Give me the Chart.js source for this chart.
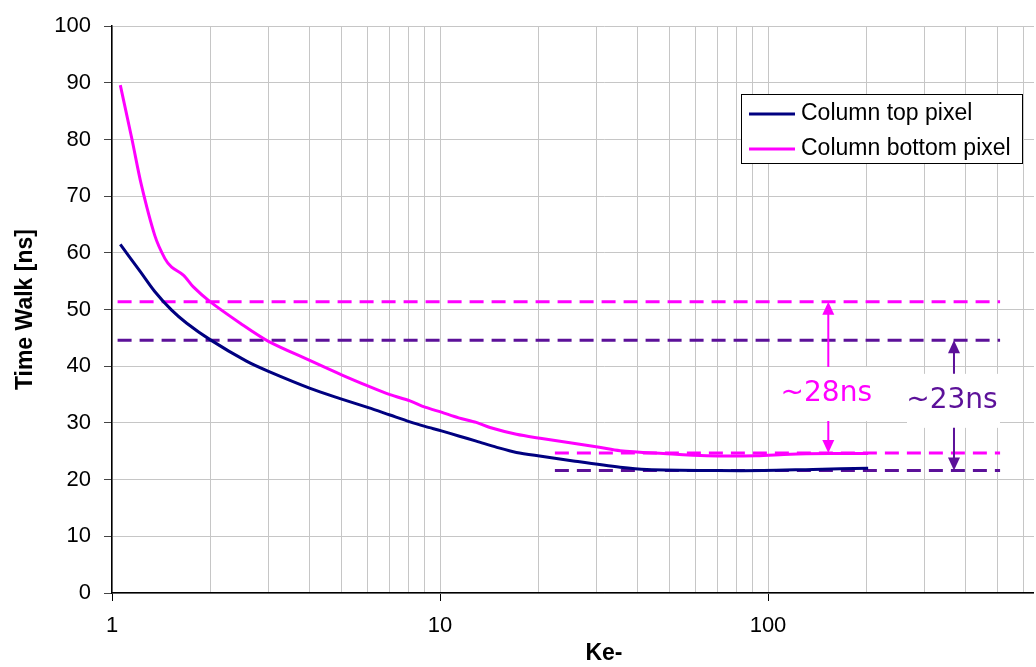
<!DOCTYPE html>
<html>
<head>
<meta charset="utf-8">
<script src="https://cdn.jsdelivr.net/npm/chart.js@4"></script>
<style>
  html, body { margin: 0; padding: 0; background: #fff; overflow: hidden; }
  #wrap { width: 1034px; height: 667px; overflow: hidden; }
</style>
</head>
<body>
<div id="wrap"><canvas id="walkChart" width="1100" height="667"></canvas></div>
<script>
// Time walk vs. injected charge (Ke-), top and bottom pixel of a column
const chargeTop = [1.06, 1.22, 1.35, 1.52, 1.69, 1.99, 2.57, 3.0, 4.02, 4.96, 6.05, 7.04, 8.1, 9.0, 10.1, 11.4, 12.9, 14.9, 17.1, 20.6, 25.5, 35.4, 42.7, 69.7, 96.8, 137, 202];
const walkTop = [61.5, 56.7, 53.2, 49.9, 47.6, 44.7, 40.9, 39.1, 36.1, 34.3, 32.7, 31.4, 30.2, 29.4, 28.6, 27.7, 26.8, 25.7, 24.8, 24.1, 23.3, 22.2, 21.8, 21.6, 21.6, 21.8, 22.0];

const chargeBottom = [1.06, 1.15, 1.23, 1.35, 1.45, 1.52, 1.65, 1.77, 1.99, 2.46, 3.0, 4.02, 5.01, 6.05, 7.04, 8.1, 9.0, 10.1, 11.4, 12.9, 14.2, 17.1, 20.2, 24.9, 30.6, 35.4, 48, 65, 92, 117, 154, 202];
const walkBottom = [89.6, 80.1, 71.9, 63.1, 59.0, 57.5, 56.1, 54.0, 51.4, 47.6, 44.4, 41.0, 38.5, 36.5, 35.0, 33.9, 32.8, 31.9, 30.9, 30.1, 29.2, 28.0, 27.3, 26.5, 25.7, 25.1, 24.6, 24.2, 24.2, 24.5, 24.6, 24.6];

const seriesNames = ['Column top pixel', 'Column bottom pixel'];
const xLabels = [1, 10, 100];

// dashed reference levels: [level, from, to]
const guideLevel = [51.4, 44.6, 24.7, 21.6];
const guideFrom = [1.04, 1.04, 22.4, 22.4];
const guideTo = [510, 510, 510, 510];

// spread arrows
const arrowX = [152.7, 369];
const arrowFrom = [51.4, 44.6];
const arrowTo = [24.7, 21.6];
const arrowLabelAt = [35.1, 33.9];
const arrowText = ['~28ns', '~23ns'];

const NAVY = '#000080';
const PINK = '#ff00ff';
const PURPLE = '#5c1199';
const guideColors = [PINK, PURPLE, PINK, PURPLE];
const noteColors = [PINK, PURPLE];

const toPoints = (xs, ys) => xs.map((v, i) => ({ x: v, y: ys[i] }));

const guideSets = guideLevel.map((lvl, i) => ({
  label: 'guide' + i,
  data: [{ x: guideFrom[i], y: lvl }, { x: guideTo[i], y: lvl }],
  borderColor: guideColors[i],
  borderWidth: 3,
  borderDash: [14, 8],
  pointRadius: 0,
  order: 2
}));

const notePlugin = {
  id: 'spreadNotes',
  afterDatasetsDraw(chart) {
    const { ctx, scales: { x, y } } = chart;
    ctx.save();
    arrowX.forEach((v, i) => {
      const px = x.getPixelForValue(v);
      const top = y.getPixelForValue(arrowFrom[i]);
      const bot = y.getPixelForValue(arrowTo[i]);
      const ly = y.getPixelForValue(arrowLabelAt[i]);
      const color = noteColors[i];
      ctx.fillStyle = '#fff';
      ctx.fillRect(px - 47, ly - 27, 93, 54);
      ctx.strokeStyle = color;
      ctx.fillStyle = color;
      ctx.lineWidth = 2;
      ctx.beginPath();
      ctx.moveTo(px, top + 10);
      ctx.lineTo(px, ly - 27);
      ctx.moveTo(px, ly + 27);
      ctx.lineTo(px, bot - 10);
      ctx.stroke();
      [[top, 1], [bot, -1]].forEach(([tip, dir]) => {
        ctx.beginPath();
        ctx.moveTo(px, tip);
        ctx.lineTo(px - 6, tip + dir * 13);
        ctx.lineTo(px + 6, tip + dir * 13);
        ctx.closePath();
        ctx.fill();
      });
      ctx.font = '28px "Comic Sans MS", "DejaVu Sans", sans-serif';
      ctx.textAlign = 'center';
      ctx.textBaseline = 'middle';
      ctx.fillText(arrowText[i], px - 2, ly);
    });
    ctx.restore();
  },
  afterDraw(chart) {
    const ctx = chart.ctx;
    ctx.save();
    ctx.fillStyle = '#fff';
    ctx.fillRect(741, 94, 281, 69);
    ctx.strokeStyle = '#000';
    ctx.lineWidth = 1;
    ctx.strokeRect(741.5, 94.5, 281, 69);
    ctx.font = '23px "Liberation Sans", Arial, sans-serif';
    ctx.textBaseline = 'middle';
    [NAVY, PINK].forEach((c, i) => {
      const ry = 114 + i * 35;
      ctx.strokeStyle = c;
      ctx.lineWidth = 3;
      ctx.beginPath();
      ctx.moveTo(749, ry);
      ctx.lineTo(795, ry);
      ctx.stroke();
      ctx.fillStyle = '#000';
      ctx.fillText(seriesNames[i], 801, ry);
    });
    ctx.restore();
  }
};

const chart = new Chart(document.getElementById('walkChart'), {
  type: 'line',
  data: {
    datasets: [
      {
        label: seriesNames[0],
        data: toPoints(chargeTop, walkTop),
        borderColor: NAVY,
        borderWidth: 3,
        pointRadius: 0,
        tension: 0.3,
        order: 1
      },
      {
        label: seriesNames[1],
        data: toPoints(chargeBottom, walkBottom),
        borderColor: PINK,
        borderWidth: 3,
        pointRadius: 0,
        tension: 0.3,
        order: 1
      },
      ...guideSets
    ]
  },
  options: {
    responsive: false,
    animation: false,
    layout: { padding: { top: 20, right: 4, left: 0, bottom: 0 } },
    plugins: { legend: { display: false }, tooltip: { enabled: false } },
    scales: {
      x: {
        type: 'logarithmic',
        min: 1,
        max: 1000,
        afterBuildTicks: scale => {
          const ticks = [];
          for (let p = 1; p <= 100; p *= 10) {
            for (let m = 1; m <= 9; m++) ticks.push({ value: m * p });
          }
          ticks.push({ value: 1000 });
          scale.ticks = ticks;
        },
        afterFit: scale => { scale.height = 74; scale.paddingRight = 0; },
        ticks: {
          autoSkip: false,
          maxRotation: 0,
          minRotation: 0,
          padding: 12,
          color: '#000',
          font: { family: '"Liberation Sans", Arial, sans-serif', size: 22 },
          callback: v => xLabels.includes(v) ? String(v) : ''
        },
        grid: {
          color: '#c6c6c6',
          tickLength: 8,
          tickColor: ctx => xLabels.includes(ctx.tick && ctx.tick.value) ? '#000' : 'rgba(0,0,0,0)'
        },
        border: { color: '#000', width: 1.5 },
        title: {
          display: true,
          text: 'Ke-',
          color: '#000',
          padding: { top: 0, bottom: 0 },
          font: { family: '"Liberation Sans", Arial, sans-serif', size: 23, weight: 'bold' }
        }
      },
      y: {
        min: 0,
        max: 100,
        afterFit: scale => { scale.width = 112; },
        ticks: {
          stepSize: 10,
          padding: 13,
          color: '#000',
          font: { family: '"Liberation Sans", Arial, sans-serif', size: 22 }
        },
        grid: { color: '#c6c6c6', tickLength: 8, tickColor: '#444' },
        border: { color: '#000', width: 1.5 },
        title: {
          display: true,
          text: 'Time Walk [ns]',
          color: '#000',
          padding: { top: 12, bottom: 0 },
          font: { family: '"Liberation Sans", Arial, sans-serif', size: 23, weight: 'bold' }
        }
      }
    }
  },
  plugins: [notePlugin]
});
</script>
</body>
</html>
